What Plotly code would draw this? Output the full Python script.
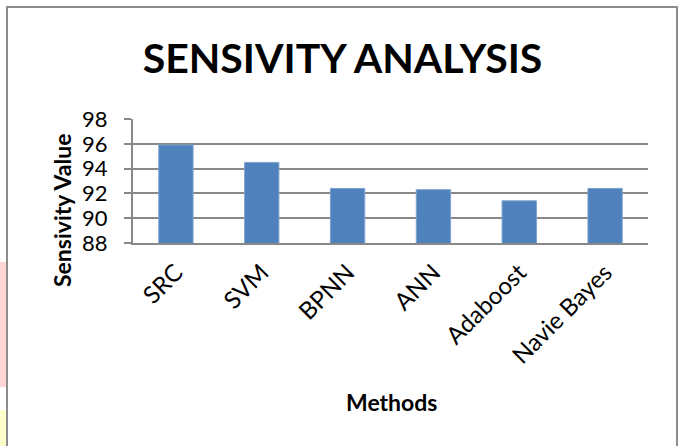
import plotly.graph_objects as go

methods = ["SRC", "SVM", "BPNN", "ANN", "Adaboost", "Navie Bayes"]
sensitivity = [95.9, 94.5, 92.4, 92.3, 91.4, 92.4]
y_ticks = [88, 90, 92, 94, 96, 98]

W, H = 681, 446
L, R, T, B = 133, 648, 119, 243  # plot area in pixels

def px_x(x):
    return (x - L) / (R - L)

def px_y(y):
    return (B - y) / (B - T)

FONT = "Lato, Calibri, sans-serif"
GRID = "#888888"

fig = go.Figure(go.Bar(
    x=methods, y=sensitivity, width=0.4,
    marker=dict(color="#4F81BD", line=dict(color="#7DA2CE", width=1)),
))

shapes = [
    dict(type="rect", xref="paper", yref="paper", x0=px_x(0), x1=px_x(6),
         y0=px_y(262), y1=px_y(387), fillcolor="#FFD6D6", line_width=0, layer="below"),
    dict(type="rect", xref="paper", yref="paper", x0=px_x(0), x1=px_x(6),
         y0=px_y(410), y1=px_y(450), fillcolor="#FFFFCC", line_width=0, layer="below"),
    dict(type="path", xref="paper", yref="paper",
         path=f"M {px_x(7)},{px_y(460)} L {px_x(7)},{px_y(7)} L {px_x(677)},{px_y(7)} L {px_x(677)},{px_y(460)}",
         line=dict(color="#8C8C8C", width=2)),
]

annotations = [
    dict(text="<b>Sensivity Value</b>", xref="paper", yref="paper",
         x=px_x(62), y=px_y(211), xanchor="center", yanchor="middle",
         textangle=-90, showarrow=False, font=dict(family=FONT, size=23, color="black")),
    dict(text="<b>Methods</b>", xref="paper", yref="paper",
         x=px_x(391), y=px_y(402), xanchor="center", yanchor="middle",
         showarrow=False, font=dict(family=FONT, size=23, color="black")),
]

fig.update_layout(
    width=W, height=H,
    margin=dict(l=L, r=W - R, t=T, b=H - B, pad=0, autoexpand=False),
    paper_bgcolor="white", plot_bgcolor="white",
    showlegend=False,
    title=dict(text="<b>SENSIVITY ANALYSIS</b>", x=(143 + 542) / 2 / W, xanchor="center",
               y=1 - 59 / H, yanchor="middle", yref="container",
               font=dict(family=FONT, size=41, color="black")),
    font=dict(family=FONT, color="black"),
    shapes=shapes,
    annotations=annotations,
)

fig.update_yaxes(
    range=[88, 98], tickvals=y_ticks, ticktext=[str(v) for v in y_ticks],
    showgrid=True, gridcolor=GRID, gridwidth=2,
    showline=True, linecolor=GRID, linewidth=2,
    ticks="outside", ticklen=7, tickcolor=GRID, tickwidth=2,
    tickfont=dict(size=22, family=FONT), ticklabelstandoff=12,
    zeroline=False, fixedrange=True, automargin=False,
)
fig.update_xaxes(
    showline=True, linecolor=GRID, linewidth=2,
    tickangle=-45, tickfont=dict(size=24, family=FONT), ticklabelstandoff=4,
    showgrid=False, automargin=False, fixedrange=True,
)

fig.write_html(
    "out.html",
    config={"displayModeBar": False, "staticPlot": True},
    post_script="document.body.style.margin='0';document.body.style.overflow='hidden';",
)
